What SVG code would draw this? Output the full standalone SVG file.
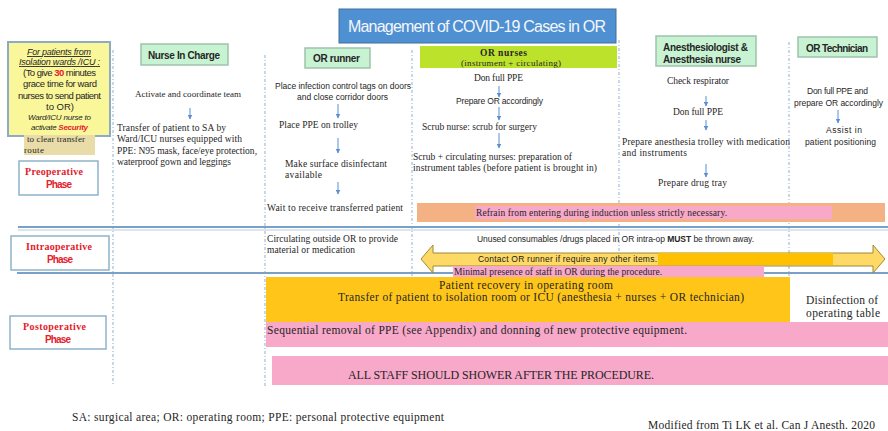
<svg xmlns="http://www.w3.org/2000/svg" width="888" height="431" viewBox="0 0 888 431">
<defs>
<marker id="ah" viewBox="0 0 10 10" refX="9" refY="5" markerWidth="5" markerHeight="5" orient="auto" markerUnits="userSpaceOnUse">
<path d="M0,0 L10,5 L0,10 z" fill="#5b8fd0"/>
</marker>
<style>
.s{font-family:"Liberation Sans",Arial,sans-serif;fill:#262626}
.r{font-family:"Liberation Serif","Times New Roman",serif;fill:#262626}
.b{font-weight:bold}
.red{fill:#e3202b}
.vl{stroke:#8fb0d0;stroke-width:1;stroke-dasharray:3 2 1 2;fill:none}
.hl{stroke:#7aa0c8;stroke-width:2;fill:none}
.hl2{stroke:#b8cde2;stroke-width:1;fill:none}
.ar{stroke:#5b8fd0;stroke-width:1;fill:none;marker-end:url(#ah)}
.grn{fill:#c8f3d3;stroke:#9fc2ad;stroke-width:1.5}
.ph{fill:#ffffff;stroke:#8db3c9;stroke-width:1.5}
.pink{fill:#f8a8c9}
</style>
</defs>
<rect width="888" height="431" fill="#ffffff"/>

<g id="title">
<rect x="339" y="9" width="277" height="34" fill="#4f90d2" stroke="#41719c" stroke-width="1"/>
<text x="348" y="32" class="s" style="fill:#f4f7fb" font-size="16" textLength="258">Management of COVID-19 Cases in OR</text>
</g>

<g id="lanes">
<line class="vl" x1="113" y1="50" x2="113" y2="386"/>
<line class="vl" x1="265" y1="55" x2="265" y2="386"/>
<line class="vl" x1="412" y1="50" x2="412" y2="276"/>
<line class="vl" x1="619" y1="40" x2="619" y2="276"/>
<line class="vl" x1="789" y1="42" x2="789" y2="276"/>
<line class="hl" x1="18" y1="227" x2="888" y2="227"/>
<line class="hl2" x1="18" y1="230" x2="888" y2="230"/>
<line class="hl" x1="17" y1="273" x2="888" y2="273"/>
</g>

<g id="isolation-note">
<rect x="8" y="42" width="102" height="94" fill="#faf69a" stroke="#8eaac4" stroke-width="2"/>
<text x="27" y="55" class="s" font-size="9" font-style="italic" text-decoration="underline" textLength="64">For patients from</text>
<text x="19" y="65" class="s" font-size="9" font-style="italic" text-decoration="underline" textLength="81">Isolation wards /ICU :</text>
<text x="23" y="76" class="s" font-size="9.5" textLength="73">(To give <tspan class="b red">30</tspan> minutes</text>
<text x="23" y="87" class="s" font-size="9.5" textLength="74">grace time for ward</text>
<text x="18" y="99" class="s" font-size="9.5" textLength="83">nurses to send patient</text>
<text x="46" y="110" class="s" font-size="9.5" textLength="28">to OR)</text>
<text x="28" y="120" class="s" font-size="8" font-style="italic" textLength="63">Ward/ICU nurse to</text>
<text x="31" y="130" class="s" font-size="8" font-style="italic" textLength="57">activate <tspan class="b red">Security</tspan></text>
<rect x="24" y="135" width="71" height="20" fill="#e9dca8"/>
<text x="27" y="142" class="r" font-size="9" textLength="58">to clear transfer</text>
<text x="24" y="153" class="r" font-size="9" textLength="20">route</text>
</g>

<g id="nurse-in-charge">
<rect x="141" y="44" width="87" height="21" class="grn"/>
<text x="148" y="58.5" class="s b" font-size="10" textLength="72">Nurse In Charge</text>
<text x="135" y="97" class="r" font-size="9" textLength="106">Activate and coordinate team</text>
<text x="117" y="131" class="r" font-size="9.5" textLength="109">Transfer of patient to SA by</text>
<text x="117" y="142" class="r" font-size="9.5" textLength="125">Ward/ICU nurses equipped with</text>
<text x="117" y="154" class="r" font-size="9.5" textLength="140">PPE: N95 mask, face/eye protection,</text>
<text x="117" y="165" class="r" font-size="9.5" textLength="114">waterproof gown and leggings</text>
</g>

<g id="or-runner">
<rect x="305" y="48" width="65" height="20" class="grn"/>
<text x="313" y="61.5" class="s b" font-size="10" textLength="47">OR runner</text>
<text x="275" y="89" class="s" font-size="8.5" textLength="136">Place infection control tags on doors</text>
<text x="297" y="100" class="s" font-size="8.5" textLength="91">and close corridor doors</text>
<text x="279" y="128" class="r" font-size="9.5" textLength="79">Place PPE on trolley</text>
<text x="285" y="167" class="r" font-size="9.5" textLength="102">Make surface disinfectant</text>
<text x="285" y="178" class="r" font-size="9.5" textLength="37">available</text>
<text x="267" y="211" class="r" font-size="9.5" textLength="136">Wait to receive transferred patient</text>
<text x="267" y="242" class="r" font-size="9.5" textLength="131">Circulating outside OR to provide</text>
<text x="267" y="253" class="r" font-size="9.5" textLength="88">material or medication</text>
</g>

<g id="or-nurses">
<rect x="420" y="46" width="197" height="22" fill="#bde22b"/>
<text x="480" y="55.5" class="r b" font-size="9.5" textLength="47">OR nurses</text>
<text x="461" y="66" class="r" font-size="9" textLength="100">(instrument + circulating)</text>
<text x="474" y="80.5" class="r" font-size="9.5" textLength="49">Don full PPE</text>
<text x="456" y="103.5" class="s" font-size="8.5" textLength="87">Prepare OR accordingly</text>
<text x="422" y="130" class="r" font-size="9.5" textLength="115">Scrub nurse: scrub for surgery</text>
<text x="413" y="160" class="r" font-size="9.5" textLength="159">Scrub + circulating nurses: preparation of</text>
<text x="413" y="171" class="r" font-size="9.5" textLength="184">instrument tables (before patient is brought in)</text>
</g>

<g id="anesthesia">
<rect x="656" y="36" width="100" height="30" class="grn"/>
<text x="663" y="50.5" class="s b" font-size="10" textLength="85">Anesthesiologist &amp;</text>
<text x="663" y="62.5" class="s b" font-size="10" textLength="78">Anesthesia nurse</text>
<text x="667" y="84" class="r" font-size="9.5" textLength="62">Check respirator</text>
<text x="673" y="115" class="r" font-size="9.5" textLength="50">Don full PPE</text>
<text x="622" y="145" class="r" font-size="9.5" textLength="168">Prepare anesthesia trolley with medication</text>
<text x="622" y="156" class="r" font-size="9.5" textLength="65">and instruments</text>
<text x="658" y="186" class="r" font-size="9.5" textLength="69">Prepare drug tray</text>
</g>

<g id="or-technician">
<rect x="798" y="37" width="79" height="20" class="grn"/>
<text x="806" y="51.5" class="s b" font-size="10" textLength="62">OR Technician</text>
<text x="807" y="94" class="s" font-size="8.5" textLength="61">Don full PPE and</text>
<text x="794" y="106" class="s" font-size="8.5" textLength="89">prepare OR accordingly</text>
<text x="826" y="133" class="s" font-size="8.5" textLength="36">Assist in</text>
<text x="805" y="145" class="s" font-size="8.5" textLength="71">patient positioning</text>
</g>

<g id="connectors">
<line class="ar" x1="190" y1="108" x2="190" y2="119"/>
<line class="ar" x1="338" y1="104" x2="338" y2="118"/>
<line class="ar" x1="338" y1="138" x2="338" y2="153"/>
<line class="ar" x1="338" y1="182" x2="338" y2="194"/>
<line class="ar" x1="499" y1="86" x2="499" y2="97"/>
<line class="ar" x1="499" y1="107" x2="499" y2="120"/>
<line class="ar" x1="499" y1="133" x2="499" y2="148"/>
<line class="ar" x1="706" y1="96" x2="706" y2="106"/>
<line class="ar" x1="706" y1="120" x2="706" y2="130"/>
<line class="ar" x1="706" y1="164" x2="706" y2="177"/>
<line class="ar" x1="838" y1="110" x2="838" y2="123"/>
</g>

<g id="preop-phase">
<rect x="19" y="161" width="79" height="34" class="ph"/>
<text x="25" y="174.5" class="r b red" font-size="10" textLength="58">Preoperative</text>
<text x="46" y="188" class="s b red" font-size="10" textLength="26">Phase</text>
</g>

<g id="refrain">
<rect x="417" y="203" width="468" height="19" fill="#f4b184"/>
<rect x="475" y="206" width="357" height="13" class="pink"/>
<text x="476" y="215.5" class="r" font-size="9.5" textLength="251">Refrain from entering during induction unless strictly necessary.</text>
</g>

<g id="intraop-phase">
<rect x="11" y="236" width="98" height="34" class="ph"/>
<text x="26" y="249.5" class="r b red" font-size="10" textLength="66">Intraoperative</text>
<text x="47" y="263" class="s b red" font-size="10" textLength="26">Phase</text>
</g>

<g id="intraop-notes">
<text x="477" y="242" class="s" font-size="8.5" textLength="277">Unused consumables /drugs placed in OR intra-op <tspan class="b">MUST</tspan> be thrown away.</text>
<path d="M421,259 L433,245 L433,253 L873,253 L873,245 L885,259 L873,273 L873,266 L433,266 L433,273 Z" fill="#ffd966" stroke="#9c8a3a" stroke-width="1"/>
<rect x="658" y="253" width="175" height="12" fill="#ffc000"/>
<text x="478" y="262" class="s" font-size="8.5" style="fill:#1a1a1a" textLength="179">Contact OR runner if require any other items.</text>
<rect x="453" y="266" width="311" height="11" class="pink"/>
<text x="454" y="275" class="r" font-size="9.5" textLength="208">Minimal presence of staff in OR during the procedure.</text>
</g>

<g id="postop-phase">
<rect x="10" y="316" width="96" height="33" class="ph"/>
<text x="23" y="330" class="r b red" font-size="10" textLength="63">Postoperative</text>
<text x="45" y="343" class="s b red" font-size="10" textLength="26">Phase</text>
</g>

<g id="postop-notes">
<rect x="266" y="277" width="524" height="45" fill="#ffc619"/>
<text x="439" y="289" class="r" font-size="11.5" textLength="174">Patient recovery in operating room</text>
<text x="338" y="301" class="r" font-size="11.5" textLength="406">Transfer of patient to isolation room or ICU (anesthesia + nurses + OR technician)</text>
<text x="806" y="304" class="r" font-size="11.5" textLength="72">Disinfection of</text>
<text x="806" y="317" class="r" font-size="11.5" textLength="74">operating table</text>
<rect x="266" y="322" width="622" height="25" class="pink"/>
<text x="267" y="334" class="r" font-size="11.5" textLength="420">Sequential removal of PPE (see Appendix) and donning of new protective equipment.</text>
<rect x="272" y="356" width="616" height="29" class="pink"/>
<text x="348" y="379" class="r" font-size="12" textLength="306">ALL STAFF SHOULD SHOWER AFTER THE PROCEDURE.</text>
</g>

<g id="footer">
<text x="72" y="421" class="r" font-size="11.5" textLength="372">SA: surgical area; OR: operating room; PPE: personal protective equipment</text>
<text x="648" y="429" class="r" font-size="11.5" textLength="227">Modified from Ti LK et al. Can J Anesth. 2020</text>
</g>
</svg>
